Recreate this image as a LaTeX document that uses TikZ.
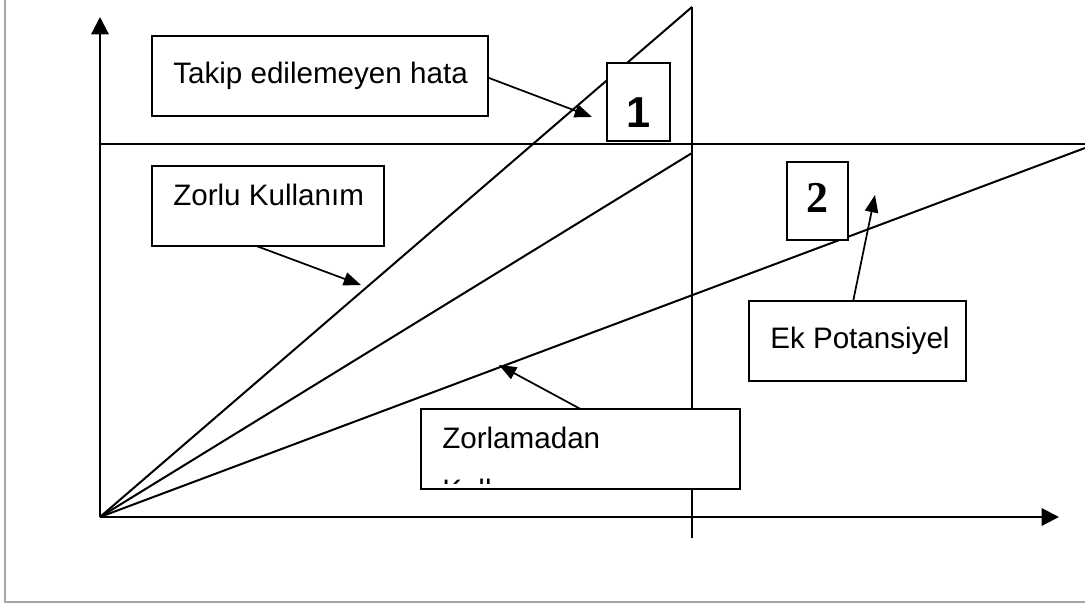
\documentclass[tikz,border=0pt]{standalone}
\usepackage{fontspec}
\setmainfont{Liberation Sans}
\newfontfamily\serifdigit{Liberation Serif}
\usetikzlibrary{arrows.meta,fit,calc}
\begin{document}
\begin{tikzpicture}[x=0.75pt,y=-0.75pt,
  lbl/.style={font=\fontsize{22.2pt}{26pt}\selectfont, inner sep=0pt, anchor=base west},
  boxed/.style={draw, line width=1.1pt, inner sep=0pt, outer sep=0pt, fill=white},
  axis/.style={line width=1.6pt, -{Triangle[length=13pt,width=13pt]}},
  graph/.style={line width=1.5pt},
  pointer/.style={line width=1.3pt, -{Triangle[length=13pt,width=10pt]}}]
  \useasboundingbox (0,0) rectangle (1085,606);
  % page frame
  \draw[line width=1.6pt, color=black!35] (5,-5) -- (5,602) -- (1090,602);

  % axes and reference lines
  \coordinate (O) at (100,517);
  \coordinate (ytip) at (100,17);
  \coordinate (xtip) at (1059,517);
  \coordinate (vtop) at (692,7);
  \coordinate (vbot) at (692,538);
  \coordinate (hl) at (100,144);
  \coordinate (hr) at (1085,144);
  \coordinate (l2) at (692,153);
  \coordinate (l3) at (1085,148);
  \draw[axis] (O) -- (ytip);
  \draw[axis] (O) -- (xtip);
  \draw[graph] (vtop) -- (vbot);
  \draw[graph] (hl) -- (hr);
  \draw[graph] (O) -- (vtop);
  \draw[graph] (O) -- (l2);
  \draw[graph] (O) -- (l3);

  % label boxes
  \node[boxed, fit={(152,36)(488,116)}] (takip) {};
  \node[lbl] (takiptxt) at (173,84) {Takip edilemeyen hata};
  \node[boxed, fit={(607,63)(670,141)}] (one) {};
  \node[inner sep=0pt, anchor=base, font=\fontsize{32.5pt}{36pt}\selectfont\bfseries] (onetxt) at (639,128) {1};
  \node[boxed, line width=1.9pt, fit={(152,166)(384,246)}] (zorlu) {};
  \node[lbl] (zorlutxt) at (173,205) {Zorlu Kullanım};
  \node[boxed, fit={(787,162)(848,240)}] (two) {};
  \node[inner sep=0pt, anchor=base, font=\fontsize{33pt}{36pt}\serifdigit\bfseries] (twotxt) at (817.5,213) {2};
  \node[boxed, fit={(749,301)(966,381)}] (ek) {};
  \node[lbl] (ektxt) at (770,348) {Ek Potansiyel};
  \node[boxed, fit={(421,409)(740,489)}] (zorlamadan) {};
  \node[lbl] (zorlamadantxt) at (442,448) {Zorlamadan};
  % second line of the text box, cut off by its lower edge
  \begin{scope}
    \clip (422,410) rectangle (739,483);
    \node[lbl] (kullanimtxt) at (442,500.5) {Kullanım};
  \end{scope}

  % pointers from the boxes to the lines
  \coordinate (p1) at (592,117);
  \coordinate (p2) at (361,285);
  \coordinate (p3) at (875,195);
  \coordinate (p4) at (499,365);
  \draw[pointer] ($(takip.north east)!0.52!(takip.south east)$) -- (p1);
  \draw[pointer] ($(zorlu.south west)!0.45!(zorlu.south east)$) -- (p2);
  \draw[pointer] ($(ek.north west)!0.48!(ek.north east)$) -- (p3);
  \draw[pointer] (zorlamadan.north) -- (p4);
\end{tikzpicture}
\end{document}
